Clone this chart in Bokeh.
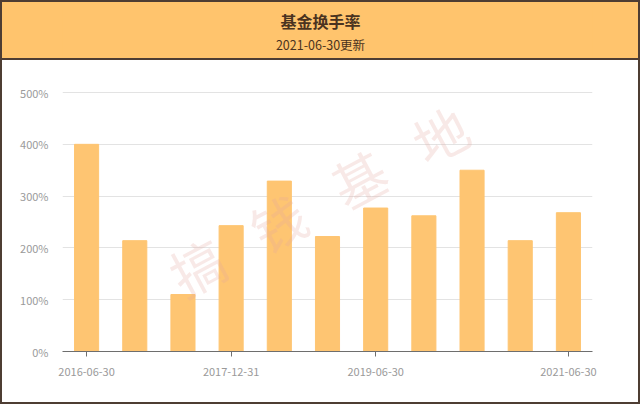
from bokeh.plotting import figure
from bokeh.layouts import column
from bokeh.models import Range1d, FixedTicker, PrintfTickFormatter, ColumnDataSource
from bokeh.core.properties import value
from bokeh.embed import file_html
from bokeh.resources import INLINE

# ---- data ----
dates = ["2016-06-30", "2016-12-31", "2017-06-30", "2017-12-31", "2018-06-30",
         "2018-12-31", "2019-06-30", "2019-12-31", "2020-06-30", "2020-12-31",
         "2021-06-30"]
turnover = [400, 214, 110, 243, 329, 222, 277, 262, 350, 214, 268]
label_idx = [0, 3, 6, 10]
y_ticks = [0, 100, 200, 300, 400, 500]
title_text = "基金换手率"
subtitle_text = "2021-06-30更新"
watermark_chars = ["搞", "钱", "基", "地"]

FONT = "Noto Sans CJK SC"
ORANGE = "#ffc46d"
BAR = "#fec572"
BROWN = "#4e3d33"

W = 636          # inner width (2px border each side)
HH = 56          # header height
CH = 342         # chart height
ML, MR = 60, 46  # frame margins (shared, frames get aligned)

# ---- header ----
header = figure(width=W, height=HH, x_range=Range1d(0, W - ML - MR), y_range=Range1d(HH, 0),
                output_backend="svg", toolbar_location=None,
                min_border_left=ML, min_border_right=MR, min_border_top=0, min_border_bottom=0,
                styles={"background-color": ORANGE})
header.axis.visible = False
header.grid.visible = False
header.background_fill_color = ORANGE
header.border_fill_color = ORANGE
header.outline_line_color = None
header.text(x=[318 - ML], y=[18], text=[title_text], text_font=value(FONT),
            text_font_size="16px", text_font_style="bold", text_color="#4a3320",
            text_align="center", text_baseline="middle")
header.text(x=[318 - ML], y=[42], text=[subtitle_text], text_font=value(FONT),
            text_font_size="12.5px", text_color="#4a3320",
            text_align="center", text_baseline="middle")

# ---- chart ----
idx = list(range(len(dates)))
src = ColumnDataSource(dict(x=idx, top=turnover, date=dates))

p = figure(width=W, height=CH, x_range=Range1d(-0.5, len(dates) - 0.5),
           y_range=Range1d(0, 502), output_backend="svg", toolbar_location=None,
           min_border_left=ML, min_border_right=MR, min_border_top=31,
           min_border_bottom=51, styles={"background-color": "white"})
p.outline_line_color = None
p.background_fill_color = "white"
p.border_fill_color = "white"

p.vbar(x="x", top="top", width=0.5, color=BAR, source=src)

# watermark (decorative): characters spread along a tilted line
wm_cx, wm_cy, wm_dx, wm_dy = 4.81, 293, 1.68, 85
n = len(watermark_chars)
wm_x = [wm_cx + (k - (n - 1) / 2) * wm_dx for k in range(n)]
wm_y = [wm_cy + (k - (n - 1) / 2) * wm_dy for k in range(n)]
p.text(x=wm_x, y=wm_y, text=watermark_chars, angle=0.49, text_font=value(FONT),
       text_font_size="54px", text_color="#e3a89e", text_alpha=0.25,
       text_align="center", text_baseline="middle")

p.xgrid.visible = False
p.ygrid.ticker = FixedTicker(ticks=y_ticks)
p.ygrid.grid_line_color = "#e3e3e3"
p.ygrid.grid_line_width = 1

p.yaxis.ticker = FixedTicker(ticks=y_ticks)
p.yaxis.formatter = PrintfTickFormatter(format="%d%%")
p.yaxis.axis_line_color = None
p.yaxis.major_tick_line_color = None
p.yaxis.minor_tick_line_color = None
p.yaxis.major_label_standoff = 8
p.yaxis.major_label_text_font = FONT
p.yaxis.major_label_text_font_size = "11px"
p.yaxis.major_label_text_color = "#9a9a9a"

p.xaxis.ticker = FixedTicker(ticks=label_idx)
p.xaxis.major_label_overrides = {i: dates[i] for i in label_idx}
p.xaxis.axis_line_color = "#6e6e6e"
p.xaxis.axis_line_width = 1
p.xaxis.major_tick_line_color = "#6e6e6e"
p.xaxis.major_tick_out = 5
p.xaxis.major_tick_in = 0
p.xaxis.minor_tick_line_color = None
p.xaxis.major_label_standoff = 11
p.xaxis.major_label_text_font = FONT
p.xaxis.major_label_text_font_size = "11px"
p.xaxis.major_label_text_color = "#9a9a9a"

layout = column(header, p, spacing=2,
                styles={"border": "2px solid " + BROWN, "background-color": BROWN})

open("out.html", "w").write(file_html(layout, INLINE))
